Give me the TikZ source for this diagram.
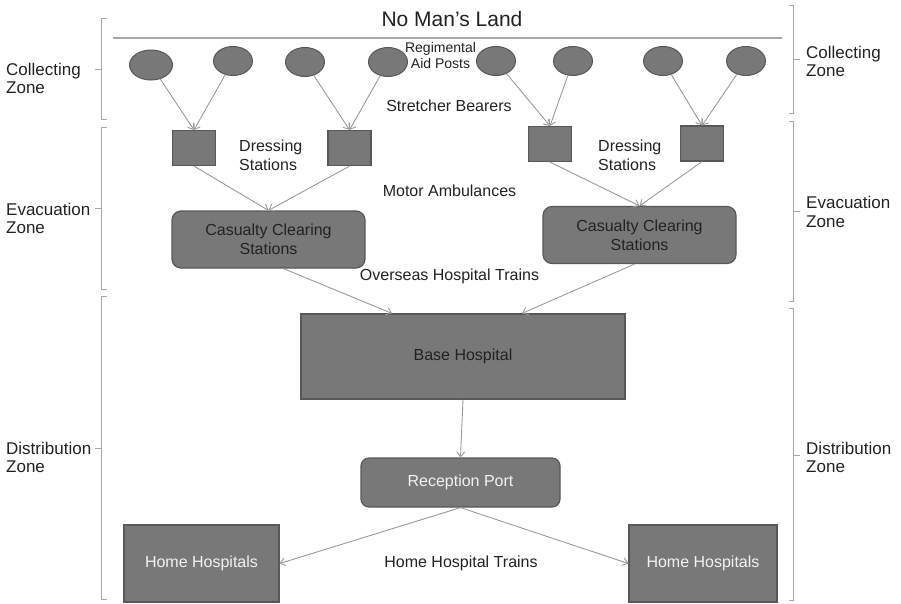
\documentclass[tikz,border=0pt]{standalone}
\usepackage{fontspec}
\setmainfont{Liberation Sans}
\usetikzlibrary{arrows.meta,shapes.geometric}
\definecolor{boxfill}{HTML}{787878}
\definecolor{boxedge}{HTML}{585858}
\definecolor{linegray}{HTML}{9A9A9A}
\definecolor{brk}{HTML}{A8A8A8}
\definecolor{darktext}{HTML}{222222}
\definecolor{lighttext}{HTML}{F2F2F2}
\begin{document}
\begin{tikzpicture}[x=1pt,y=-1pt,
  post/.style={ellipse, draw=boxedge, fill=boxfill, line width=1pt, minimum width=39pt, minimum height=29pt, inner sep=0pt},
  dress/.style={rectangle, draw=boxedge, fill=boxfill, line width=1.2pt, minimum width=43pt, minimum height=35pt, inner sep=0pt},
  boxbase/.style={draw=boxedge, fill=boxfill, line width=1.2pt, inner sep=0pt, align=center, font=\fontsize{16}{19}\selectfont},
  ccs/.style={boxbase, rounded corners=9pt, minimum width=193pt, minimum height=57pt, text=darktext},
  lbl/.style={font=\fontsize{16}{19}\selectfont, text=darktext, inner sep=0pt},
  zonelbl/.style={font=\fontsize{17}{18.5}\selectfont, text=darktext, inner sep=0pt, anchor=west, align=left},
  arr/.style={draw=linegray, line width=0.9pt, -{Straight Barb[length=5pt,width=8pt]}},
  brace/.style={draw=brk, line width=1pt}
]
\useasboundingbox (0,0) rectangle (901,603);

% title and top line
\node[font=\fontsize{21}{24}\selectfont, text=darktext, inner sep=0pt] (nml) at (452,19) {No Man’s Land};
\coordinate (tl) at (113,38);
\coordinate (tr) at (782,38);
\draw[draw=brk, line width=1.2pt] (tl) -- (tr);

% brackets left
\draw[brace] (107,18) -- (101,18) -- (101,119) -- (107,119);
\draw[brace] (101,69) -- (95,69);
\draw[brace] (107,127) -- (101,127) -- (101,289) -- (107,289);
\draw[brace] (101,208) -- (95,208);
\draw[brace] (107,296) -- (101,296) -- (101,599) -- (107,599);
\draw[brace] (101,448) -- (95,448);
% brackets right
\draw[brace] (789,5) -- (793,5) -- (793,113) -- (789,113);
\draw[brace] (793,59) -- (800,59);
\draw[brace] (789,121) -- (793,121) -- (793,301) -- (789,301);
\draw[brace] (793,211) -- (800,211);
\draw[brace] (789,308) -- (793,308) -- (793,600) -- (789,600);
\draw[brace] (793,455) -- (800,455);

% zone labels
\node[zonelbl] (lcz) at (6,78.5) {Collecting\\Zone};
\node[zonelbl] (lez) at (6,218.5) {Evacuation\\Zone};
\node[zonelbl] (ldz) at (6,457.5) {Distribution\\Zone};
\node[zonelbl] (rcz) at (806,61.5) {Collecting\\Zone};
\node[zonelbl] (rez) at (806,212) {Evacuation\\Zone};
\node[zonelbl] (rdz) at (806,457.5) {Distribution\\Zone};

% aid posts
\node[post, minimum width=43pt, minimum height=30pt] (e1) at (151,65) {};
\node[post] (e2) at (233,61) {};
\node[post] (e3) at (305,62) {};
\node[post] (e4) at (388,62) {};
\node[post] (e5) at (496,61) {};
\node[post] (e6) at (573,61) {};
\node[post] (e7) at (663,61) {};
\node[post] (e8) at (746,61) {};

% dressing stations
\node[dress] (s1) at (194,148) {};
\node[dress] (s2) at (349.5,148) {};
\node[dress] (s3) at (550,144) {};
\node[dress] (s4) at (702,143.5) {};

% casualty clearing stations
\node[ccs] (c1) at (268.5,239.5) {Casualty Clearing\\Stations};
\node[ccs] (c2) at (639.5,235) {Casualty Clearing\\Stations};

% base hospital
\node[boxbase, minimum width=324pt, minimum height=85pt, text=darktext] (base) at (463,356.5) {Base Hospital};

% reception port
\node[boxbase, rounded corners=8pt, minimum width=199pt, minimum height=49pt, text=lighttext] (rp) at (460.5,482.5) {Reception Port};

% home hospitals
\node[boxbase, minimum width=155pt, minimum height=77pt, text=lighttext] (h1) at (201.5,563.5) {Home Hospitals};
\node[boxbase, minimum width=148pt, minimum height=77pt, text=lighttext] (h2) at (703,563.5) {Home Hospitals};

% text labels
\node[font=\fontsize{14}{16}\selectfont, text=darktext, align=center, inner sep=0pt] (rap) at (440.5,55) {Regimental\\Aid Posts};
\node[lbl] (sb) at (449,106) {Stretcher Bearers};
\node[lbl, anchor=west, align=left] (ds1) at (239,155) {Dressing\\Stations};
\node[lbl, anchor=west, align=left] (ds2) at (598,155) {Dressing\\Stations};
\node[lbl] (ma) at (449.5,191) {Motor Ambulances};
\node[lbl] (oht) at (449.5,276) {Overseas Hospital Trains};
\node[lbl] (hht) at (461,563) {Home Hospital Trains};

% connectors
\draw[arr] (e1) -- (s1.north);
\draw[arr] (e2) -- (s1.north);
\draw[arr] (e3) -- (s2.north);
\draw[arr] (e4) -- (s2.north);
\draw[arr] (e5) -- (s3.north);
\draw[arr] (e6) -- (s3.north);
\draw[arr] (e7) -- (s4.north);
\draw[arr] (e8) -- (s4.north);
\draw[arr] (s1.south) -- (c1.north);
\draw[arr] (s2.south) -- (c1.north);
\draw[arr] (s3.south) -- (c2.north);
\draw[arr] (s4.south) -- (c2.north);
\draw[arr] ([xshift=15pt]c1.south) -- ([xshift=-71pt]base.north);
\draw[arr] ([xshift=-5pt]c2.south) -- ([xshift=59pt]base.north);
\draw[arr] (base.south) -- (rp.north);
\draw[arr] (rp.south) -- (h1.east);
\draw[arr] (rp.south) -- (h2.west);
\end{tikzpicture}
\end{document}
